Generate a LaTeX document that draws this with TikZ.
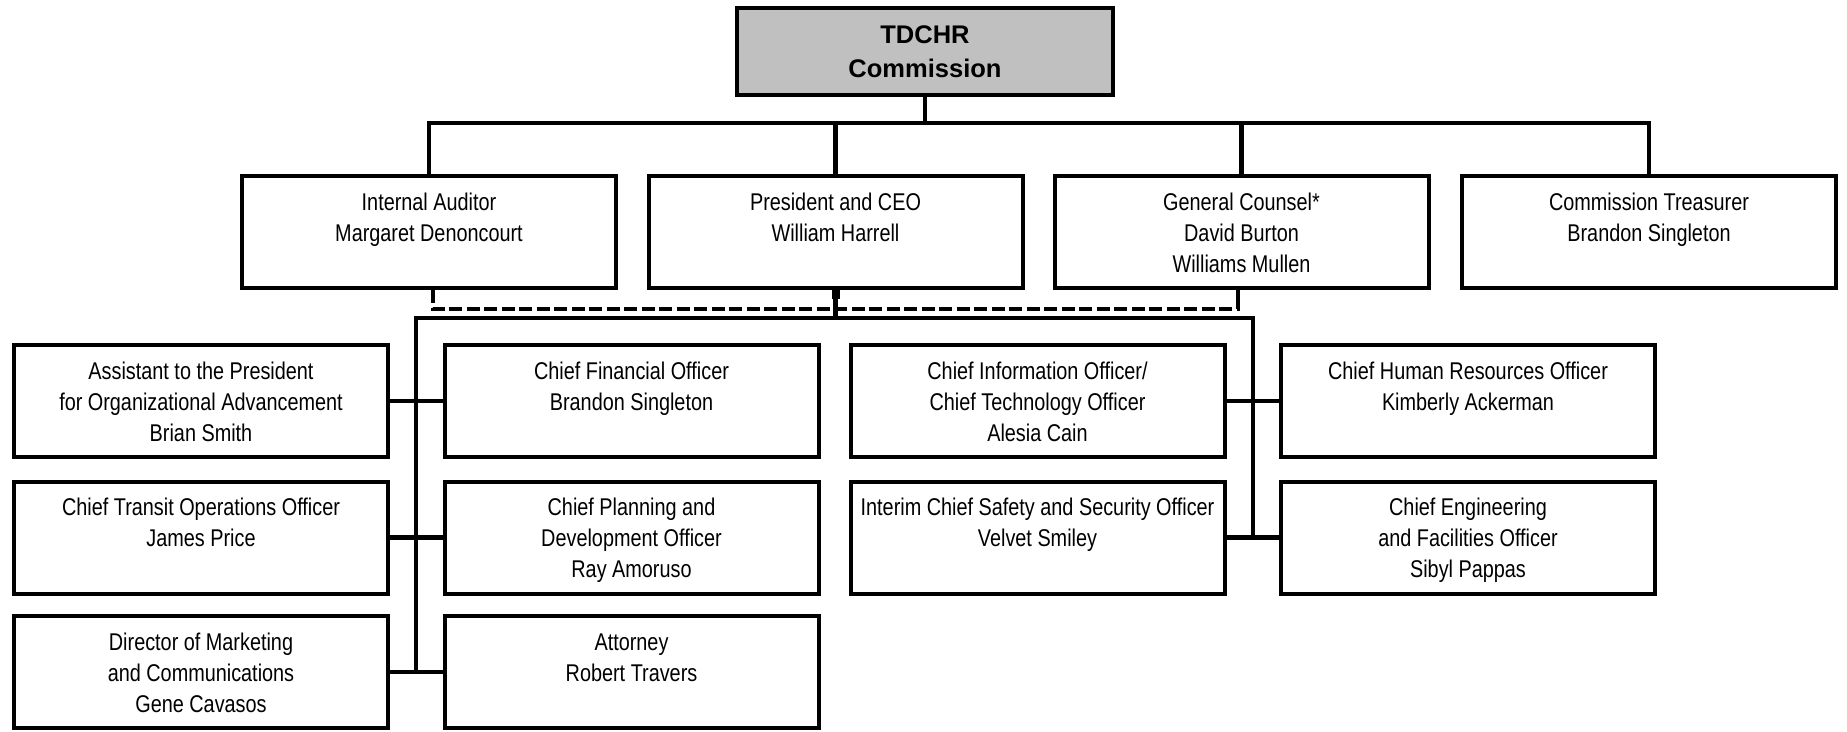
\documentclass[tikz,border=0pt]{standalone}
\usepackage{fontspec}
\setmainfont{Liberation Sans}
\newfontfamily\narrowfont[FakeStretch=0.82]{Liberation Sans}
\usetikzlibrary{calc}
\definecolor{topgray}{HTML}{C0C0C0}
\newcommand\bx[1]{\parbox[c][112pt][t]{374pt}{\centering\narrowfont\fontsize{24.2}{31}\selectfont\vspace*{16pt}\rule{0pt}{18pt}#1\par}}
\begin{document}
\begin{tikzpicture}[x=1pt,y=-1pt,
  orgbox/.style={draw=black, line width=4pt, inner sep=0pt, fill=white},
  topbox/.style={draw=black, line width=4pt, fill=topgray, inner sep=0pt,
    minimum width=376pt, minimum height=87pt, align=center,
    font=\fontsize{25.5}{34}\selectfont\bfseries},
  conn/.style={line width=4.5pt},
  dashconn/.style={line width=4pt, dash pattern=on 13pt off 4.5pt}]
\useasboundingbox (0,0) rectangle (1847,731);
\fill[white] (0,0) rectangle (1847,731);

% top
\node[topbox] (top) at (925,51.5) {TDCHR\\Commission};

% second row
\node[orgbox] (ia)   at (429,232)    {\bx{Internal Auditor\\Margaret Denoncourt}};
\node[orgbox] (pres) at (835.5,232)  {\bx{President and CEO\\William Harrell}};
\node[orgbox] (gc)   at (1241.5,232) {\bx{General Counsel*\\David Burton\\Williams Mullen}};
\node[orgbox] (ct)   at (1649,232)   {\bx{Commission Treasurer\\Brandon Singleton}};

% third block
\node[orgbox] (a1) at (201,401)    {\bx{Assistant to the President\\for Organizational Advancement\\Brian Smith}};
\node[orgbox] (b1) at (631.5,401)  {\bx{Chief Financial Officer\\Brandon Singleton}};
\node[orgbox] (c1) at (1037.5,401) {\bx{Chief Information Officer/\\Chief Technology Officer\\Alesia Cain}};
\node[orgbox] (d1) at (1468,401)   {\bx{Chief Human Resources Officer\\Kimberly Ackerman}};

\node[orgbox] (a2) at (201,537.5)    {\bx{Chief Transit Operations Officer\\James Price}};
\node[orgbox] (b2) at (631.5,537.5)  {\bx{Chief Planning and\\Development Officer\\Ray Amoruso}};
\node[orgbox] (c2) at (1037.5,537.5) {\bx{Interim Chief Safety and Security Officer\\Velvet Smiley}};
\node[orgbox] (d2) at (1468,537.5)   {\bx{Chief Engineering\\and Facilities Officer\\Sibyl Pappas}};

\node[orgbox] (a3) at (201,672)   {\bx{Director of Marketing\\and Communications\\Gene Cavasos}};
\node[orgbox] (b3) at (631.5,672) {\bx{Attorney\\Robert Travers}};

% connectors top
\coordinate (hb) at (0,123);
\draw[conn] (top.south) -- (top.south |- hb);
\draw[conn] (ia.north) -- (ia.north |- hb) -- (ct.north |- hb) -- (ct.north);
\draw[conn] (pres.north) -- (pres.north |- hb);
\draw[conn] (gc.north) -- (gc.north |- hb);

% dashed link
\coordinate (dl) at (0,309);
\coordinate (ds1) at ($(ia.south)+(4,0)$);
\coordinate (ds2) at ($(gc.south)+(-3.5,0)$);
\draw[conn] (ds1) -- ++(0,10);
\draw[conn] (ds2) -- ++(0,10);
\draw[dashconn] (ds1) -- (ds1 |- dl) -- (ds2 |- dl) -- (ds2);

% solid trunks
\coordinate (lt) at (416,318);
\coordinate (rt) at (1253,318);
\draw[line width=8pt] (pres.south) -- ++(0,9);
\draw[conn] (pres.south) -- (pres.south |- lt);
\draw[conn] (lt |- a3.east) -- (lt) -- (rt) -- (rt |- c2.east);
\draw[conn] (a1.east) -- (b1.west);
\draw[conn] (a2.east) -- (b2.west);
\draw[conn] (a3.east) -- (b3.west);
\draw[conn] (c1.east) -- (d1.west);
\draw[conn] (c2.east) -- (d2.west);
\end{tikzpicture}
\end{document}
